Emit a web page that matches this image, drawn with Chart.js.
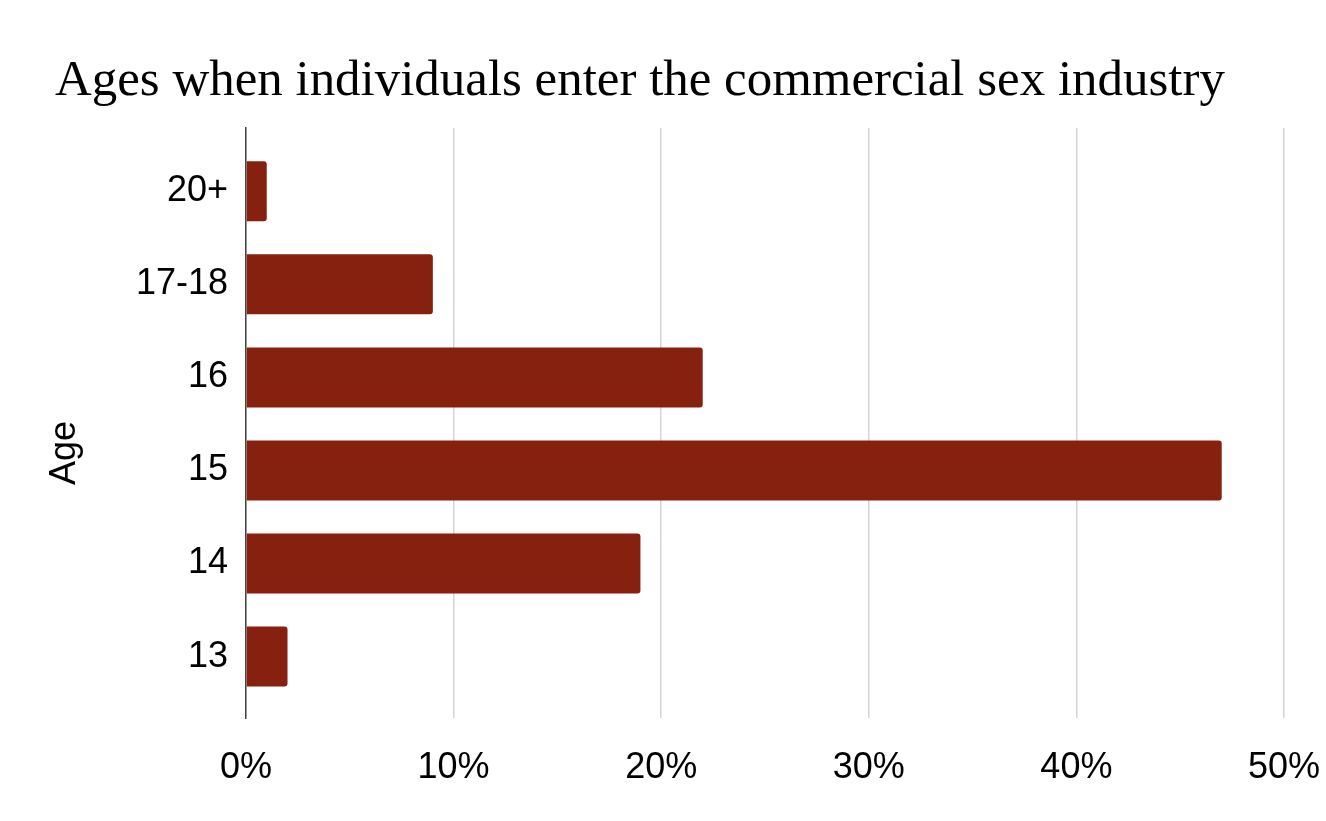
<!DOCTYPE html>
<html>
<head>
<meta charset="utf-8">
<script src="https://cdn.jsdelivr.net/npm/chart.js@4"></script>
<style>
html,body{margin:0;padding:0;background:#fff;}
#wrap{width:1326px;height:821px;}
</style>
</head>
<body>
<div id="wrap"><canvas id="c" width="1326" height="821"></canvas></div>
<script>
const chartTitle = "Ages when individuals enter the commercial sex industry";
const axisTitleY = "Age";
const categories = ["20+", "17-18", "16", "15", "14", "13"];
const percentValues = [1, 9, 22, 47, 19, 2];
const xTicks = [0, 10, 20, 30, 40, 50];

const SERIF = '"Liberation Serif", "DejaVu Serif", serif';
const SANS = '"Liberation Sans", Arial, sans-serif';

const textPlugin = {
  id: 'textPlugin',
  afterDraw(chart) {
    const ctx = chart.ctx;
    ctx.save();
    let size = 50;
    ctx.font = size + 'px ' + SERIF;
    const w = ctx.measureText(chartTitle).width;
    size = size * 1170 / w;
    ctx.font = size + 'px ' + SERIF;
    ctx.fillStyle = '#000';
    ctx.textAlign = 'left';
    ctx.textBaseline = 'alphabetic';
    ctx.fillText(chartTitle, 55, 95);
    ctx.translate(65, 453);
    ctx.rotate(-Math.PI / 2);
    ctx.font = '36px ' + SANS;
    ctx.textAlign = 'center';
    ctx.textBaseline = 'middle';
    ctx.fillText(axisTitleY, 0, 0);
    ctx.restore();
  }
};

const points = percentValues.map((v, i) => ({ x: v, y: i }));

new Chart(document.getElementById('c'), {
  type: 'bar',
  data: {
    datasets: [{
      data: points,
      backgroundColor: '#86200f',
      borderRadius: 3,
      borderSkipped: 'start',
      categoryPercentage: 0.645,
      barPercentage: 1
    }]
  },
  options: {
    indexAxis: 'y',
    responsive: false,
    animation: false,
    devicePixelRatio: 1,
    layout: { padding: { top: 128, left: 0, right: 42, bottom: 0 } },
    plugins: { legend: { display: false }, title: { display: false }, tooltip: { enabled: false } },
    scales: {
      x: {
        type: 'linear',
        min: 0, max: 50,
        afterBuildTicks(scale) { scale.ticks = xTicks.map(v => ({ value: v })); },
        afterFit(scale) { scale.height = 103; scale.paddingRight = 0; scale.paddingLeft = 0; },
        grid: { color: '#d4d4d4', lineWidth: 1.5, drawTicks: false },
        border: { display: false },
        ticks: {
          padding: 28,
          color: '#000',
          font: { family: SANS, size: 36 },
          callback: v => v + '%'
        }
      },
      y: {
        type: 'linear',
        reverse: true,
        offset: false,
        min: -0.68, max: categories.length - 1 + 0.66,
        afterBuildTicks(scale) { scale.ticks = categories.map((c, i) => ({ value: i })); },
        afterFit(scale) { scale.width = 246; scale.paddingTop = 0; scale.paddingBottom = 0; },
        grid: { display: false, drawTicks: false, offset: false },
        border: { display: true, color: '#444', width: 1.5 },
        ticks: {
          padding: 18,
          color: '#000',
          font: { family: SANS, size: 36 },
          callback: v => categories[v]
        }
      }
    }
  },
  plugins: [textPlugin]
});
</script>
</body>
</html>
